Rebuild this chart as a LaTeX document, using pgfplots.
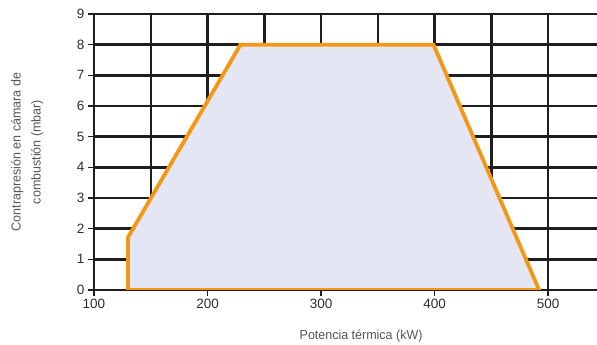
\documentclass[border=0pt]{standalone}
\usepackage{fontspec}
\setmainfont{Liberation Sans}
\newfontfamily\condensed{Liberation Sans}[FakeStretch=0.96]
\usepackage{pgfplots}
\pgfplotsset{compat=1.18}
\definecolor{gridblack}{RGB}{30,30,30}
\definecolor{zoneorange}{RGB}{243,152,22}
\definecolor{zonefill}{RGB}{228,230,243}
\definecolor{labelgray}{RGB}{85,85,85}
\definecolor{tickgray}{RGB}{45,45,45}

\begin{document}
\begin{tikzpicture}
\useasboundingbox (-94pt,-55pt) rectangle (503pt,290pt);
\begin{axis}[
    at={(0pt,0pt)}, anchor=south west,
    scale only axis,
    width=503pt, height=276pt,
    xmin=100, xmax=543, ymin=0, ymax=9,
    xtick={100,200,...,500},
    minor xtick={150,250,350,450},
    ytick={0,...,9},
    grid=both,
    major grid style={gridblack, line width=2.4pt},
    minor grid style={gridblack, line width=2.4pt},
    axis line style={draw=none},
    tick pos=left,
    tick align=outside,
    major tick length=6pt, minor tick length=0pt,
    tick style={gridblack, line width=1.4pt},
    /pgf/number format/assume math mode=true,
    ticklabel style={font=\fontsize{13.5}{15}\selectfont, text=tickgray},
    xlabel={Potencia térmica (kW)},
    ylabel={Contrapresión en cámara de\\combustión (mbar)},
    xlabel style={at={(axis description cs:0.531,0)}, anchor=center, yshift=-46pt,
        font=\condensed\fontsize{13}{15}\selectfont, text=labelgray},
    ylabel style={at={(axis description cs:-0.133,0.5)}, anchor=center,
        align=center, font=\condensed\fontsize{13}{20}\selectfont, text=labelgray},
]
\addplot[draw=zoneorange, line width=3.8pt, fill=zonefill]
    coordinates {(130,0) (130,1.72) (229,8) (399,8) (492,0)} -- cycle;
\end{axis}
\end{tikzpicture}
\end{document}
